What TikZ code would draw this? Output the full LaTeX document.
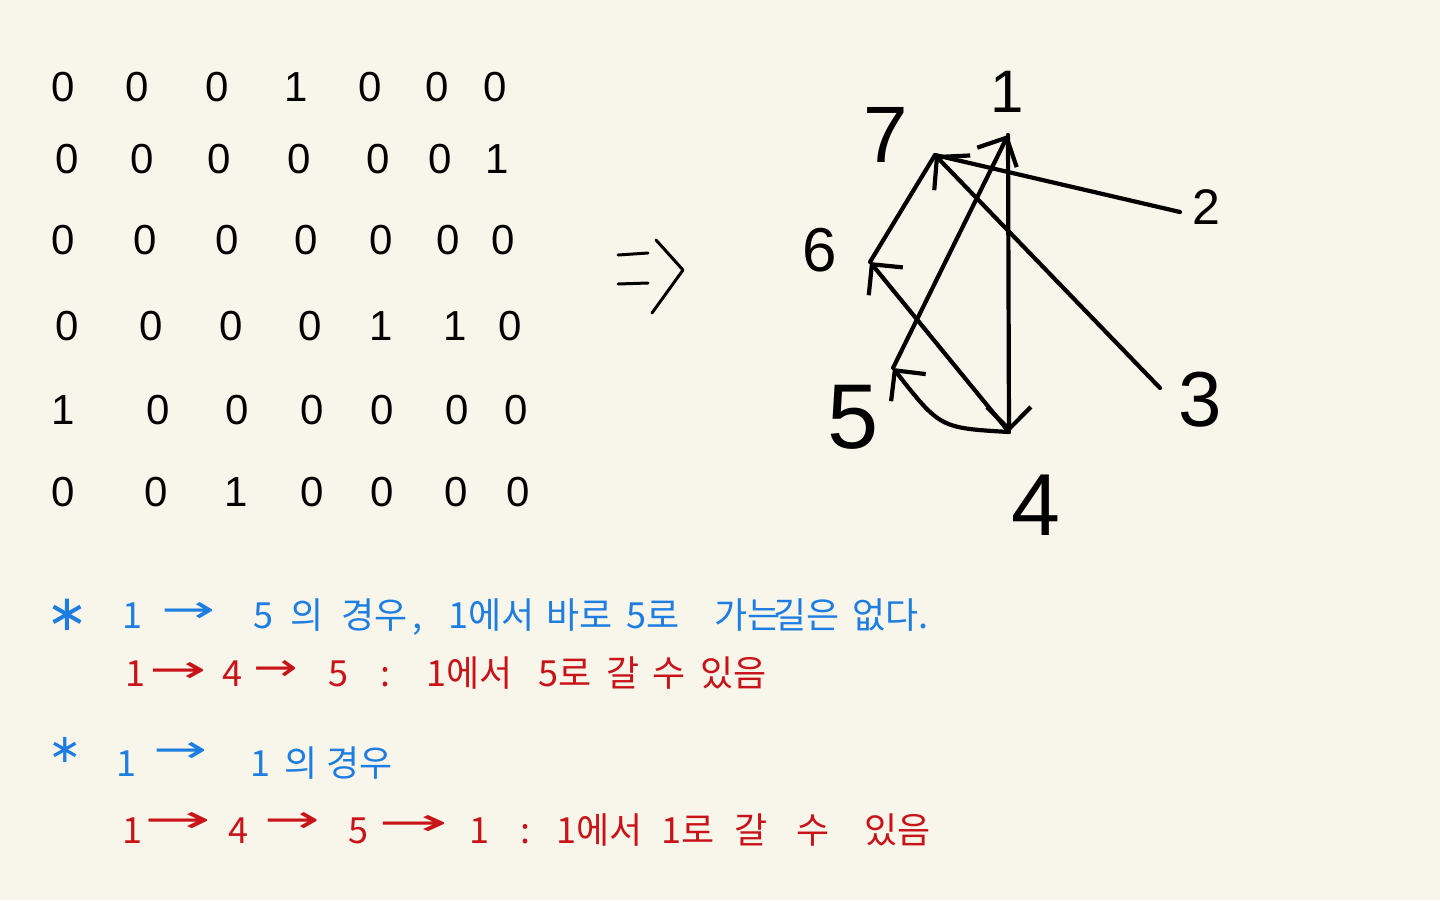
\documentclass[tikz,border=0pt]{standalone}
\usepackage{fontspec}
\setmainfont{Liberation Sans}
\newfontfamily\kr{Noto Sans CJK KR}
\newfontfamily\dv{DejaVu Sans}
\usetikzlibrary{arrows.meta}
\definecolor{bg}{RGB}{248,246,235}
\definecolor{pblue}{RGB}{30,125,225}
\definecolor{pred}{RGB}{200,20,25}
\newcommand\myarr[1]{\scalebox{#1}[1]{\dv\fontsize{38}{38}\selectfont →}}
\begin{document}
\begin{tikzpicture}[x=1pt,y=-1pt,
  dig/.style={inner sep=0pt,font=\fontsize{42}{42}\selectfont},
  lab/.style={inner sep=0pt},
  edge/.style={line width=4.2pt,line cap=round,line join=round,-{Straight Barb[length=22pt,width=44pt,line width=4.2pt]}},
  plain/.style={line width=4.2pt,line cap=round,line join=round},
  bt/.style={text=pblue,inner sep=0pt,anchor=base west,font=\kr\fontsize{36}{36}\selectfont},
  rt/.style={text=pred,inner sep=0pt,anchor=base west,font=\kr\fontsize{36}{36}\selectfont},
  ba/.style={text=pblue,inner sep=0pt,anchor=center},
  ra/.style={text=pred,inner sep=0pt,anchor=center}]
\fill[bg] (0,0) rectangle (1440,900);
\useasboundingbox (0,0) rectangle (1440,900);
% matrix
\foreach \x/\v [count=\c] in {63/0,137/0,217/0,296/1,370/0,437/0,495/0}
  \node[dig] (ma\c) at (\x,87) {\v};
\foreach \x/\v [count=\c] in {67/0,142/0,219/0,299/0,378/0,440/0,497/1}
  \node[dig] (mb\c) at (\x,159) {\v};
\foreach \x/\v [count=\c] in {63/0,145/0,227/0,306/0,381/0,448/0,503/0}
  \node[dig] (mc\c) at (\x,240) {\v};
\foreach \x/\v [count=\c] in {67/0,151/0,231/0,310/0,381/1,455/1,510/0}
  \node[dig] (md\c) at (\x,326) {\v};
\foreach \x/\v [count=\c] in {63/1,158/0,237/0,312/0,382/0,457/0,516/0}
  \node[dig] (me\c) at (\x,410) {\v};
\foreach \x/\v [count=\c] in {63/0,156/0,236/1,312/0,382/0,456/0,518/0}
  \node[dig] (mf\c) at (\x,492) {\v};
% implies symbol
\draw[plain,line width=3pt] (618,255) -- (648,253);
\draw[plain,line width=3pt] (618,284) -- (648,283);
\draw[plain,line width=3pt] (656,240) -- (683,270) -- (652,313);
% graph
\coordinate (v1) at (1008,135);
\coordinate (v2) at (1180,212);
\coordinate (v3) at (1160,388);
\coordinate (v4) at (1009,432);
\coordinate (v5) at (893,368);
\coordinate (v6) at (870,262);
\coordinate (v7) at (935,155);
\node[lab,font=\fontsize{60}{60}\selectfont] (l1) at (1007,92) {1};
\node[lab,font=\fontsize{50}{50}\selectfont] (l2) at (1206,207) {2};
\node[lab,font=\fontsize{78}{78}\selectfont] (l3) at (1200,400) {3};
\node[lab,font=\fontsize{88}{88}\selectfont] (l4) at (1036,505) {4};
\node[lab,font=\fontsize{92}{92}\selectfont] (l5) at (853,417) {5};
\node[lab,font=\fontsize{62}{62}\selectfont] (l6) at (820,250) {6};
\node[lab,font=\fontsize{80}{80}\selectfont] (l7) at (886,135) {7};
\draw[edge] (v1) -- (v4);
\draw[plain] (v2) -- (v7);
\draw[edge,{Straight Barb[length=22pt,width=50pt,line width=4.2pt]}-] (v7) -- (v3);
\draw[plain] (v6) -- (v7);
\draw[edge] (v5) -- (v1);
\draw[edge] (v4) -- (v6);
\draw[edge] (v4) .. controls (940,428) .. (v5);
% line 1 (blue)
\node[ba,font=\dv\fontsize{50}{50}\selectfont] (s1) at (67,615) {∗};
\node[bt] (t11) at (122,628) {1};
\node[ba] (a11) at (189,612) {\myarr{1.7}};
\node[bt] (t12) at (253,628) {5};
\node[bt] (t13) at (290,628) {의};
\node[bt] (t14) at (341,628) {경우};
\node[bt] (t15) at (412,628) {,};
\node[bt] (t16) at (448,628) {1에서};
\node[bt] (t17) at (546,628) {바로};
\node[bt] (t18) at (626,628) {5로};
\node[bt] (t19) at (714,628) {가는};
\node[bt] (t110) at (773,628) {길은};
\node[bt] (t111) at (852,628) {없다.};
% line 2 (red)
\node[rt] (t21) at (125,686) {1};
\node[ra] (a21) at (178,672) {\myarr{1.8}};
\node[rt] (t22) at (222,686) {4};
\node[ra] (a22) at (276,670) {\myarr{1.4}};
\node[rt] (t23) at (328,686) {5};
\node[rt] (t24) at (380,686) {:};
\node[rt] (t25) at (426,686) {1에서};
\node[rt] (t26) at (538,686) {5로};
\node[rt] (t27) at (606,686) {갈};
\node[rt] (t28) at (652,686) {수};
\node[rt] (t29) at (700,686) {있음};
% line 3 (blue)
\node[ba,font=\dv\fontsize{40}{40}\selectfont] (s3) at (65,750) {∗};
\node[bt] (t31) at (116,776) {1};
\node[ba] (a31) at (181,752) {\myarr{1.7}};
\node[bt] (t32) at (250,776) {1};
\node[bt] (t33) at (284,776) {의};
\node[bt] (t34) at (326,776) {경우};
% line 4 (red)
\node[rt] (t41) at (122,843) {1};
\node[ra] (a41) at (178,822) {\myarr{2.1}};
\node[rt] (t42) at (228,843) {4};
\node[ra] (a42) at (292,822) {\myarr{1.75}};
\node[rt] (t43) at (348,843) {5};
\node[ra] (a43) at (414,825) {\myarr{2.2}};
\node[rt] (t44) at (469,843) {1};
\node[rt] (t45) at (520,843) {:};
\node[rt] (t46) at (556,843) {1에서};
\node[rt] (t47) at (661,843) {1로};
\node[rt] (t48) at (734,843) {갈};
\node[rt] (t49) at (796,843) {수};
\node[rt] (t410) at (864,843) {있음};
\end{tikzpicture}
\end{document}
